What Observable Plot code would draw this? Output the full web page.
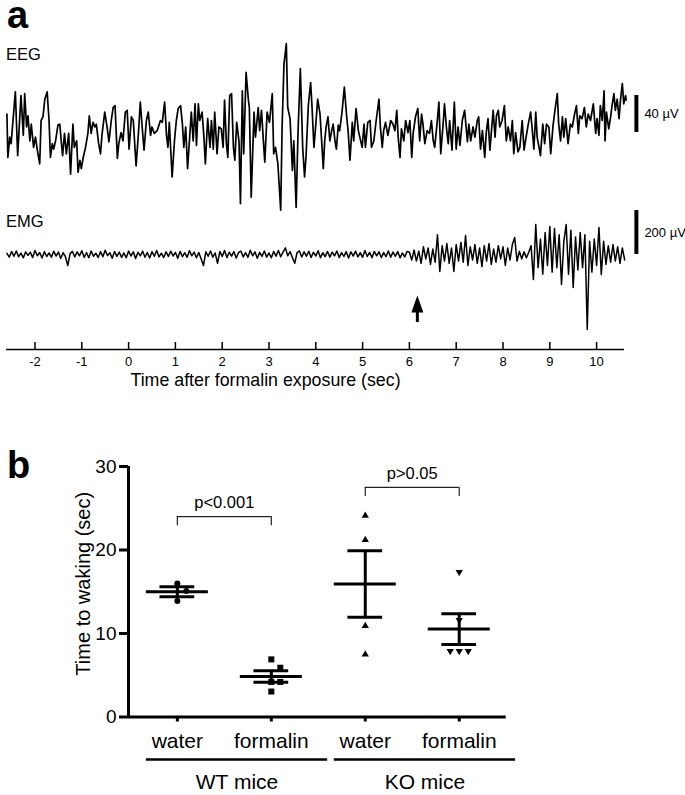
<!DOCTYPE html>
<html><head><meta charset="utf-8">
<script src="https://cdn.jsdelivr.net/npm/d3@7"></script>
<script src="https://cdn.jsdelivr.net/npm/@observablehq/plot@0.6"></script>
<style>
body{margin:0;background:#fff;font-family:"Liberation Sans",Arial,sans-serif;}
#fig{position:relative;width:685px;height:795px;overflow:hidden;background:#fff;}
.abs{position:absolute;line-height:1;}
.panel{font-weight:bold;font-size:38px;line-height:0.72;}
.trace{font-size:16.5px;}
</style></head><body><div id="fig"></div>
<script>
// ================= Panel a data =================
const eegT = [-2.60,-2.58,-2.54,-2.51,-2.42,-2.37,-2.30,-2.25,-2.22,-2.18,-2.15,-2.11,-2.08,-2.03,-1.99,-1.95,-1.90,-1.87,-1.83,-1.79,-1.74,-1.70,-1.67,-1.63,-1.60,-1.56,-1.51,-1.47,-1.44,-1.41,-1.37,-1.33,-1.28,-1.24,-1.19,-1.16,-1.11,-1.08,-1.04,-1.01,-0.97,-0.92,-0.87,-0.84,-0.80,-0.76,-0.72,-0.69,-0.64,-0.60,-0.57,-0.51,-0.46,-0.42,-0.37,-0.33,-0.29,-0.24,-0.21,-0.16,-0.12,-0.07,-0.03,0.01,0.06,0.10,0.16,0.21,0.25,0.29,0.33,0.38,0.42,0.47,0.50,0.55,0.61,
0.68,0.72,0.77,0.81,0.84,0.87,0.93,0.98,1.02,1.06,1.11,1.15,1.18,1.22,1.26,1.30,1.34,1.38,1.42,1.45,1.49,1.52,1.57,1.61,1.64,1.69,1.74,1.77,1.81,1.84,1.89,1.93,1.98,2.02,2.05,2.09,2.12,2.16,2.20,2.24,2.27,2.31,2.36,2.39,2.43,2.46,2.51,2.56,2.58,2.62,2.68,2.71,2.77,2.80,2.84,2.88,2.91,2.96,3.01,3.07,3.10,3.14,3.19,3.25,3.28,3.32,3.37,3.40,3.45,3.50,3.53,3.58,3.62,3.67,3.72,3.76,3.79,3.84,3.89,
3.92,3.96,3.99,4.04,4.09,4.12,4.16,4.19,4.22,4.26,4.30,4.34,4.37,4.41,4.44,4.48,4.51,4.56,4.61,4.66,4.69,4.73,4.78,4.81,4.86,4.91,4.94,4.99,5.03,5.06,5.11,5.16,5.19,5.24,5.29,5.35,5.38,5.42,5.45,5.49,5.54,5.60,5.65,5.69,5.73,5.76,5.80,5.83,5.88,5.92,5.97,6.01,6.05,6.08,6.13,6.18,6.22,6.26,6.29,6.33,6.38,6.43,6.47,6.51,6.54,6.59,6.63,6.67,6.72,6.75,6.79,6.83,6.86,6.91,6.96,7.00,7.04,7.08,7.13,7.18,
7.24,7.27,7.31,7.36,7.40,7.45,7.48,7.52,7.56,7.61,7.64,7.68,7.72,7.76,7.79,7.83,7.86,7.90,7.93,7.98,8.03,8.07,8.11,8.16,8.20,8.23,8.27,8.32,8.36,8.41,8.45,8.48,8.54,8.59,8.62,8.66,8.70,8.73,8.77,8.80,8.85,8.89,8.93,8.98,9.02,9.07,9.11,9.16,9.19,9.23,9.27,9.30,9.34,9.39,9.44,9.48,9.53,9.57,9.61,9.64,9.69,9.74,9.78,9.82,9.87,9.93,9.98,10.01,10.05,10.08,10.12,10.16,10.18,10.21,10.26,10.30,10.33,10.37,10.40,10.44,10.48,10.51,10.55,10.58,10.62,10.63];
const eegV = [7,-40,-18,-25,31,-38,27,-16,29,-7,5,-22,-4,-29,-18,-32,-47,0,4,23,31,0,-40,-25,-31,-22,-5,-4,-22,-38,-14,-36,-14,-58,-4,-29,-22,-56,-43,-52,-40,-29,-14,5,-14,-2,-7,-4,-25,-36,-16,9,-7,-23,0,14,16,-41,-25,-13,-22,9,11,-31,4,0,-49,-14,20,-7,-32,0,9,-16,-7,-14,-11,
0,-2,20,-16,-29,-2,-61,-22,0,13,16,-4,-29,-7,-52,-22,9,-22,18,-27,18,0,9,-18,-47,2,-29,0,-31,9,-36,-7,-9,-29,22,-25,-40,27,29,-29,-43,-2,-23,-90,32,-36,52,22,14,-83,9,-18,14,-11,11,-22,-45,9,-2,29,-36,-29,-47,-97,-7,61,83,14,2,-54,-22,-94,-13,56,-29,-61,-40,16,41,
14,-29,-11,23,7,-18,-52,-22,-7,4,-22,-11,-4,-22,-31,-5,-11,9,36,4,-11,-43,-2,-22,13,-11,-18,-29,-4,-29,-2,0,-29,-22,0,23,-7,-29,-11,-2,-16,0,-4,-11,11,-18,-40,-9,-22,0,-13,0,-40,-14,4,13,-22,7,-4,-25,-11,-14,0,-22,-29,-4,20,-36,-4,18,-7,-25,0,-32,20,-31,-7,-27,0,11,
-23,-4,-22,-7,-18,0,4,-31,-11,-40,-14,2,-32,-7,11,-18,5,11,-7,0,16,-22,-7,-22,0,-36,-13,-34,-29,0,-32,-22,-4,9,-7,-31,9,-18,-29,-38,-4,-25,-4,-7,-36,-5,11,29,-4,-22,4,-18,2,-25,-4,-7,7,16,-14,5,2,14,-7,7,0,18,-14,2,-16,16,0,32,-22,9,-9,4,16,29,11,23,2,22,40,18,27,22];

const emgStart = -2.6, emgStep = 0.05;   // sampled EMG (s)
const emgV = [
5,-12,14,-8,16,-10,6,-15,12,-4, 10,-14,18,-6,9,-16,13,-9,7,-12, 15,-7,11,-18,8,-10,-50,4,14,-11,
12,-6,17,-13,9,-15,16,-8,6,-14, 13,-10,19,-5,8,-17,14,-9,11,-13, 7,-15,16,-7,12,-18,10,-6,15,-12,
9,-16,13,-8,18,-11,6,-14,12,-9, 15,-7,10,-17,14,-10,8,-13,17,-6, 11,-15,9,-20,-50,12,-8,16,-12,7,
-40,14,-9,18,-14,10,-7,13,-16,9, 15,-11,8,-13,19,-6,12,-17,10,-9, 16,-12,7,-15,14,-8,18,-10,11,30,
-6,13,-14,-40,9,16,-11,12,-8,15, -13,10,-7,17,-15,8,-10,14,-12,11, -6,16,-14,9,-9,13,-16,12,-7,15,
-11,8,-13,18,-9,10,-15,14,-6,12, -14,9,-10,16,-12,11,-8,13,-15,7, -11,14,
10,-25,20,-30,15,-40,35,-20,30,-45, 25,-35,90,-77,40,-30,50,-40,30,-77, 45,-30,55,-35,86,-50,35,-25,45,-40,
30,-55,40,-30,50,-45,25,-35,40,-20, 35,-50,30,-25,45,77,-30,15,-20,12, -15,10,
40,-114,136,-60,70,-90,100,-50,127,-80, 118,-60,90,-136,60,136,-90,110,-150,80,
-70,100,-60,90,-341,60,-80,70,-50,123, -91,60,-45,40,-35,45,-30,35,-40,30, -25];

const timeTicks = [-2,-1,0,1,2,3,4,5,6,7,8,9,10];
const timeLabel = "Time after formalin exposure (sec)";
const traceNames = ["EEG", "EMG"];
const scaleBars = [40, 200];          // µV
const wakeTime = 6.17;                // s, arrow

// ================= Panel b data =================
const conditions = ["water", "formalin", "water", "formalin"];
const groups = ["WT mice", "KO mice"];
const groupCats = [[1, 2], [3, 4]];
const wtWater = [16.0, 15.1, 13.9];
const wtFormalin = [6.9, 5.9, 4.2, 4.2, 3.05];
const koWater = [24.1, 21.2, 10.9, 7.5];
const koFormalin = [17.35, 11.6, 7.9, 7.9, 7.9];
const yTicks = [0, 10, 20, 30];
const yLabel = "Time to waking (sec)";
const bracketFrom = [1, 3], bracketTo = [2, 4], bracketLevel = [24.0, 27.5];
const bracketText = ["p<0.001", "p>0.05"];

// ================= layout =================
const fig = document.getElementById("fig");
const FONT = '"Liberation Sans", Arial, Helvetica, sans-serif';
const baseStyle = {background: "transparent", fontFamily: FONT, color: "black", overflow: "visible"};
function place(node, top, left = 0) { node.style.position = "absolute"; node.style.top = top + "px"; node.style.left = left + "px"; fig.appendChild(node); return node; }
function label(txt, cls, top, left) { const d = document.createElement("div"); d.className = "abs " + cls; d.textContent = txt; d.style.top = top + "px"; d.style.left = left + "px"; fig.appendChild(d); }

const X = {domain: [-2, 10], range: [34.5, 596.1], axis: null};
const barTime = 10.85;

// EEG trace
const eeg = eegT.map((t, i) => ({t, v: eegV[i]}));
place(Plot.plot({
  width: 685, height: 190, style: baseStyle,
  x: X, y: {domain: [-100, 100], range: [182.5, -2.5], axis: null},
  marks: [
    Plot.line(eeg, {x: "t", y: "v", stroke: "black", strokeWidth: 1.7, strokeLinejoin: "round"}),
    Plot.ruleX([scaleBars[0]], {x: () => barTime, y1: () => -13, y2: d => -13 + d, strokeWidth: 4}),
    Plot.text([scaleBars[0]], {x: () => barTime, y: d => -13 + d / 2, text: d => `${d} µV`, dx: 8, textAnchor: "start", fontSize: 13})
  ]
}), 30);

// EMG trace
const emg = emgV.map((v, i) => ({t: emgStart + i * emgStep, v}));
place(Plot.plot({
  width: 685, height: 140, style: baseStyle,
  x: X, y: {domain: [-400, 300], range: [142, -12], axis: null},
  marks: [
    Plot.line(emg, {x: "t", y: "v", stroke: "black", strokeWidth: 1.5, strokeLinejoin: "round"}),
    Plot.ruleX([scaleBars[1]], {x: () => barTime, y1: () => 0, y2: d => d, strokeWidth: 4}),
    Plot.text([scaleBars[1]], {x: () => barTime, y: d => d / 2, text: d => `${d} µV`, dx: 8, textAnchor: "start", fontSize: 13}),
    Plot.ruleX([wakeTime], {x: d => d, y1: () => -309, y2: () => -255, strokeWidth: 3}),
    Plot.vector([wakeTime], {x: d => d, y: () => -264, length: 17, r: 6, shape: "spike", anchor: "start", rotate: 0, fill: "black", stroke: "none"})
  ]
}), 200);

// time axis
place(Plot.plot({
  width: 685, height: 60, marginTop: 0, marginBottom: 53, marginLeft: 6, marginRight: 61, style: baseStyle,
  x: X, y: {domain: [0, 1], axis: null},
  marks: [
    Plot.ruleY([0], {stroke: "black", strokeWidth: 1.5}),
    Plot.tickX(timeTicks, {x: d => d, stroke: "black", strokeWidth: 1.5}),
    Plot.axisX({ticks: timeTicks, tickSize: 0, tickPadding: 7, fontSize: 13, tickFormat: d => String(d), label: null}),
    Plot.text([timeLabel], {frameAnchor: "bottom", dx: -50, dy: 36, fontSize: 17.8})
  ]
}), 342);

label("a", "panel", 2, 7);
label(traceNames[0], "trace", 46, 6);
label(traceNames[1], "trace", 213, 6);

// ================= Panel b =================
const H = 355, mT = 26, mB = 78.5, mL = 128, mR = 179.3;
const xLo = 0.48, xHi = 4.5;
const pxPerY = (H - mT - mB) / 30, pxPerX = (685 - mL - mR) / (xHi - xLo);
const series = [wtWater, wtFormalin, koWater, koFormalin];
const symbols = ["circle", "square", "triangle", "triangle"];
const rotations = [0, 0, 0, 180];
const radii = [3, 3.4, 2.7, 2.7];

function dodge(vals, c) {
  const placed = [];
  const order = vals.map((v, i) => i).sort((a, b) => vals[b] - vals[a]);
  for (const i of order) {
    const v = vals[i];
    for (const k of [0, 1, -1, 2, -2, 3, -3]) {
      const dx = k * 9;
      if (placed.every(p => Math.abs((p.v - v) * pxPerY) >= 9 || Math.abs(p.dx - dx) >= 8)) { placed.push({v, dx}); break; }
    }
  }
  return placed.map(p => ({x: c + p.dx / pxPerX, y: p.v}));
}
const stats = series.map((vals, i) => {
  const m = d3.mean(vals), s = d3.deviation(vals) / Math.sqrt(vals.length);
  return {c: i + 1, m, lo: m - s, hi: m + s};
});
const brackets = bracketText.map((t, i) => ({t, a: bracketFrom[i], b: bracketTo[i], y: bracketLevel[i]}));
const grp = groups.map((g, i) => ({g, lo: groupCats[i][0] - 0.33, hi: groupCats[i][1] + 0.6}));

place(Plot.plot({
  width: 685, height: H, marginTop: mT, marginBottom: mB, marginLeft: mL, marginRight: mR, style: baseStyle,
  x: {domain: [xLo, xHi]}, y: {domain: [0, 30]},
  marks: [
    Plot.ruleX([xLo], {x: d => d, y1: () => 0, y2: () => 30, strokeWidth: 3}),
    Plot.ruleY([0], {y: d => d, x1: () => xLo, x2: () => xHi, strokeWidth: 3}),
    Plot.axisY({ticks: yTicks, tickSize: 9, tickPadding: 3, fontSize: 19, strokeWidth: 3, tickFormat: d => String(d), label: null}),
    Plot.text([yLabel], {frameAnchor: "left", textAnchor: "middle", rotate: -90, dx: -45, dy: -8, fontSize: 20}),
    Plot.axisX({ticks: [1, 2, 3, 4], tickFormat: d => conditions[d - 1], tickSize: 5, tickPadding: 11, fontSize: 21, strokeWidth: 3, label: null}),
    Plot.ruleY(grp, {y: () => 0, x1: "lo", x2: "hi", dy: 42.5, strokeWidth: 2.5}),
    Plot.text(grp, {x: d => (d.lo + d.hi) / 2, y: () => 0, text: "g", dy: 65.5, fontSize: 21}),
    // brackets
    Plot.ruleY(brackets, {y: "y", x1: "a", x2: "b", stroke: "#222", strokeWidth: 1.2}),
    Plot.ruleX(brackets, {x: "a", y1: d => d.y - 1.1, y2: "y", stroke: "#222", strokeWidth: 1.2}),
    Plot.ruleX(brackets, {x: "b", y1: d => d.y - 1.1, y2: "y", stroke: "#222", strokeWidth: 1.2}),
    Plot.text(brackets, {x: d => (d.a + d.b) / 2, y: "y", text: "t", dy: -14, fontSize: 16.5}),
    // mean ± SEM
    Plot.ruleY(stats, {y: "m", x1: d => d.c - 0.33, x2: d => d.c + 0.33, strokeWidth: 3}),
    Plot.ruleY(stats, {y: "hi", x1: d => d.c - 0.185, x2: d => d.c + 0.185, strokeWidth: 3}),
    Plot.ruleY(stats, {y: "lo", x1: d => d.c - 0.185, x2: d => d.c + 0.185, strokeWidth: 3}),
    Plot.ruleX(stats, {x: "c", y1: "lo", y2: "hi", strokeWidth: 3}),
    ...series.map((vals, i) => Plot.dot(dodge(vals, i + 1), {x: "x", y: "y", symbol: symbols[i], r: radii[i], rotate: rotations[i], fill: "black", stroke: "none"}))
  ]
}), 440);

label("b", "panel", 452, 7);
</script></body></html>
